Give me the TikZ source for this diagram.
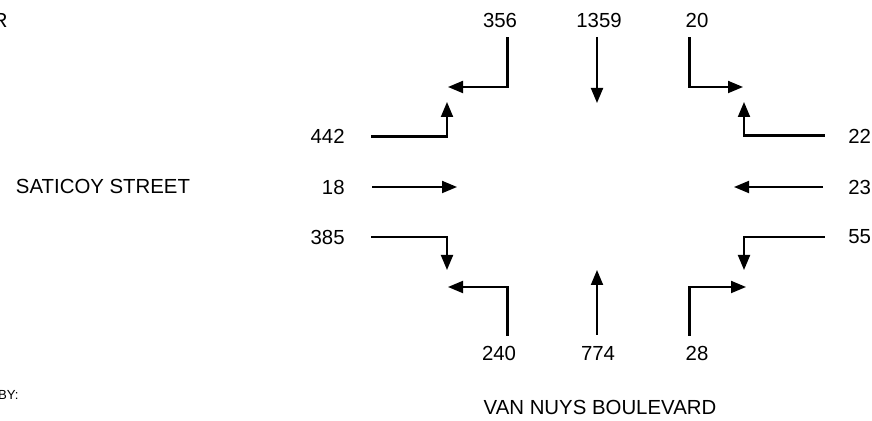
\documentclass[tikz,border=0pt]{standalone}
\usepackage{fontspec}
\setmainfont{Liberation Sans}
\usetikzlibrary{arrows.meta}

\begin{document}
\begin{tikzpicture}[x=0.02cm,y=-0.02cm,font=\fontsize{11.6}{14}\selectfont,
  vol/.style={inner sep=0pt},
  approach/.style={line width=1.7pt,line cap=rect},
  headleg/.style={line width=1.1pt,-{Triangle[length=0.3cm,width=0.24cm]}}]
\useasboundingbox (0,0) rectangle (872,421);
\node[vol,anchor=east] (title) at (8,20) {R};
\node[vol,anchor=east,font=\fontsize{7.5}{9}\selectfont] (prepby) at (19,395) {BY:};
\node[vol] (saticoy) at (103,186) {SATICOY STREET};
\node[vol] (vannuys) at (600,407) {VAN NUYS BOULEVARD};
\node[vol] (sbr) at (500,20) {356};
\node[vol] (sbt) at (599,20) {1359};
\node[vol] (sbl) at (697,20) {20};
\node[vol] (nbl) at (499,353) {240};
\node[vol] (nbt) at (598,353) {774};
\node[vol] (nbr) at (697,353) {28};
\node[vol,anchor=east] (ebl) at (345,136) {442};
\node[vol,anchor=east] (ebt) at (345,187) {18};
\node[vol,anchor=east] (ebr) at (345,237) {385};
\node[vol,anchor=west] (wbr) at (848,136) {22};
\node[vol,anchor=west] (wbt) at (848,187) {23};
\node[vol,anchor=west] (wbl) at (848,237) {55};
\foreach \mv/\sx/\sy/\cx/\cy/\tx/\ty in {sbr/507/39/507/87/448/87, sbl/689/39/689/87/743/87,
  ebl/372/137/447/137/447/102, wbr/823/136/744/136/744/102,
  ebr/372/237/447/237/447/270, wbl/823/237/744/237/744/270,
  nbl/507/335/507/287/448/287, nbr/689/335/689/287/746/287}{%
  \coordinate (\mv-s) at (\sx,\sy);
  \coordinate (\mv-c) at (\cx,\cy);
  \coordinate (\mv-t) at (\tx,\ty);
  \draw[approach] (\mv-s) -- (\mv-c);
  \draw[headleg] (\mv-c) -- (\mv-t);
}
\foreach \mv/\sx/\sy/\tx/\ty in {sbt/597/37/597/103, nbt/597/335/597/270,
  ebt/372/187/457/187, wbt/823/187/734/187}{%
  \coordinate (\mv-s) at (\sx,\sy);
  \coordinate (\mv-t) at (\tx,\ty);
  \draw[headleg] (\mv-s) -- (\mv-t);
}
\end{tikzpicture}
\end{document}
